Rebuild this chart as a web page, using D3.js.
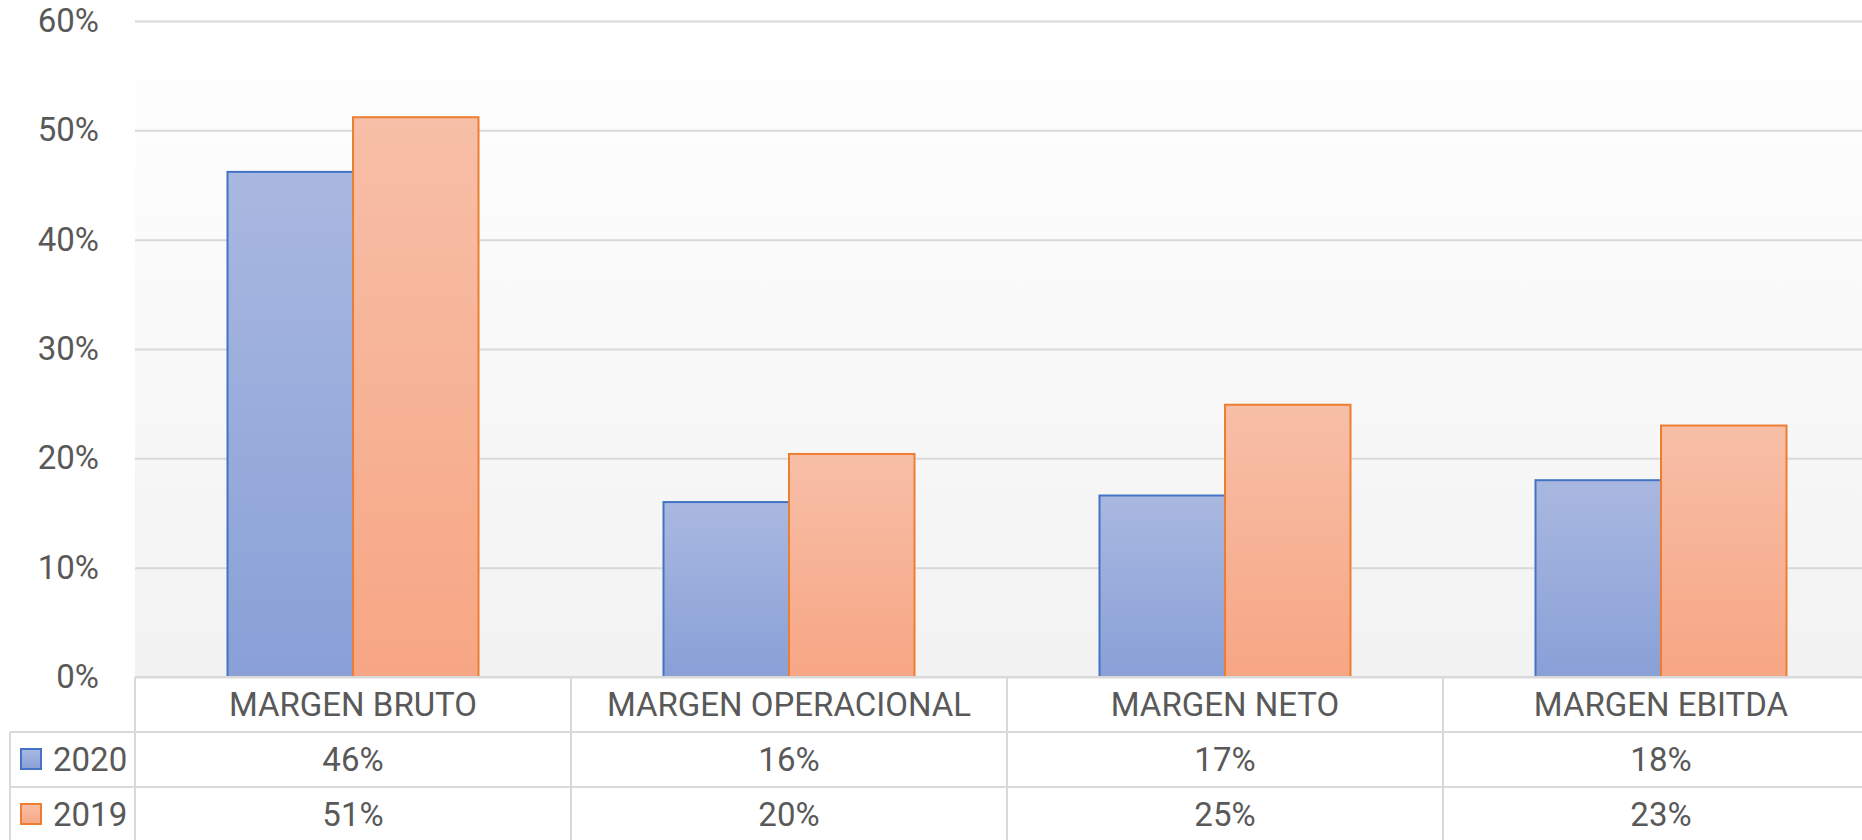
<!DOCTYPE html>
<html>
<head>
<meta charset="utf-8">
<script src="https://cdn.jsdelivr.net/npm/d3@7"></script>
<style>
  body { margin: 0; background: #fff; }
  text { font-family: Roboto, "Open Sans", sans-serif; fill: #595959; }
</style>
</head>
<body>
<svg id="chart" width="1862" height="840"></svg>
<script>
// data
const categories = ["MARGEN BRUTO", "MARGEN OPERACIONAL", "MARGEN NETO", "MARGEN EBITDA"];
const seriesNames = ["2020", "2019"];
const values2020 = [0.462, 0.160, 0.166, 0.180];
const values2019 = [0.512, 0.204, 0.249, 0.230];
const yTicks = [0, 0.1, 0.2, 0.3, 0.4, 0.5, 0.6];

const series = [
  { name: seriesNames[0], values: values2020, fill: "grad2020", stroke: "#4472c4" },
  { name: seriesNames[1], values: values2019, fill: "grad2019", stroke: "#ed7d31" }
];

const svg = d3.select("#chart");

// layout
const plotLeft = 135, plotTop = 21, plotBottom = 677;
const bandW = 436;
const rowH = 55;
const gridColor = "#d9d9d9";

const x = d3.scaleBand()
  .domain(categories)
  .range([plotLeft, plotLeft + bandW * categories.length]);

const xInner = d3.scaleBand()
  .domain(seriesNames)
  .range([92.5, bandW - 92.5]);

const y = d3.scaleLinear()
  .domain([0, 0.6])
  .range([plotBottom, plotTop]);

const pct = d3.format(".0%");

// gradients
const defs = svg.append("defs");
const addGrad = (id, c0, c1) => {
  const g = defs.append("linearGradient").attr("id", id)
    .attr("x1", 0).attr("y1", 0).attr("x2", 0).attr("y2", 1);
  g.append("stop").attr("offset", "0%").attr("stop-color", c0);
  g.append("stop").attr("offset", "100%").attr("stop-color", c1);
};
addGrad("gradBg", "#ffffff", "#f2f2f2");
addGrad("grad2020", "#a9b8e0", "#89a0d7");
addGrad("grad2019", "#f7bfa7", "#f7a684");

// plot background
svg.append("rect")
  .attr("x", plotLeft).attr("y", plotTop)
  .attr("width", bandW * categories.length)
  .attr("height", plotBottom - plotTop)
  .attr("fill", "url(#gradBg)");

// gridlines + y labels
const yAxis = svg.append("g")
  .attr("transform", `translate(${plotLeft},0)`)
  .call(d3.axisLeft(y).tickValues(yTicks).tickFormat(pct)
    .tickSize(-bandW * categories.length).tickPadding(36));
yAxis.select(".domain").remove();
yAxis.selectAll(".tick line").attr("stroke", gridColor).attr("stroke-width", 2);
yAxis.selectAll(".tick text")
  .attr("font-size", 33)
  .attr("fill", "#595959")
  .attr("font-family", "Roboto, 'Open Sans', sans-serif");

// bars
const groups = svg.append("g").selectAll("g")
  .data(series)
  .join("g");

groups.selectAll("rect")
  .data(s => s.values.map((v, i) => ({ s, v, cat: categories[i] })))
  .join("rect")
  .attr("x", d => x(d.cat) + xInner(d.s.name))
  .attr("y", d => y(d.v))
  .attr("width", xInner.bandwidth())
  .attr("height", d => y(0) - y(d.v))
  .attr("fill", d => `url(#${d.s.fill})`)
  .attr("stroke", d => d.s.stroke)
  .attr("stroke-width", 2);

// data table
const table = svg.append("g");
const tableRight = plotLeft + bandW * categories.length;
const legendLeft = 10;

// horizontal lines
table.append("line")
  .attr("x1", plotLeft).attr("x2", tableRight)
  .attr("y1", plotBottom).attr("y2", plotBottom);
[1, 2].forEach(r => {
  table.append("line")
    .attr("x1", legendLeft).attr("x2", tableRight)
    .attr("y1", plotBottom + r * rowH).attr("y2", plotBottom + r * rowH);
});
// vertical lines
categories.forEach(c => {
  table.append("line")
    .attr("x1", x(c)).attr("x2", x(c))
    .attr("y1", plotBottom).attr("y2", 840);
});
table.append("line")
  .attr("x1", legendLeft).attr("x2", legendLeft)
  .attr("y1", plotBottom + rowH).attr("y2", 840);
table.selectAll("line").attr("stroke", gridColor).attr("stroke-width", 2);

// category labels
table.selectAll("text.cat")
  .data(categories)
  .join("text")
  .attr("class", "cat")
  .attr("x", d => x(d) + bandW / 2)
  .attr("y", plotBottom + rowH / 2)
  .attr("dy", "0.35em")
  .attr("text-anchor", "middle")
  .attr("font-size", 33)
  .text(d => d);

// value rows with legend keys
series.forEach((s, r) => {
  const cy = plotBottom + (r + 1) * rowH + rowH / 2;
  table.append("rect")
    .attr("x", 21).attr("y", cy - 10.5)
    .attr("width", 20).attr("height", 20)
    .attr("fill", `url(#${s.fill})`)
    .attr("stroke", s.stroke).attr("stroke-width", 2);
  table.append("text")
    .attr("x", 53).attr("y", cy).attr("dy", "0.35em")
    .attr("font-size", 33)
    .text(s.name);
  table.selectAll(null)
    .data(s.values)
    .join("text")
    .attr("x", (d, i) => x(categories[i]) + bandW / 2)
    .attr("y", cy).attr("dy", "0.35em")
    .attr("text-anchor", "middle")
    .attr("font-size", 33)
    .text(d => pct(d));
});
</script>
</body>
</html>
